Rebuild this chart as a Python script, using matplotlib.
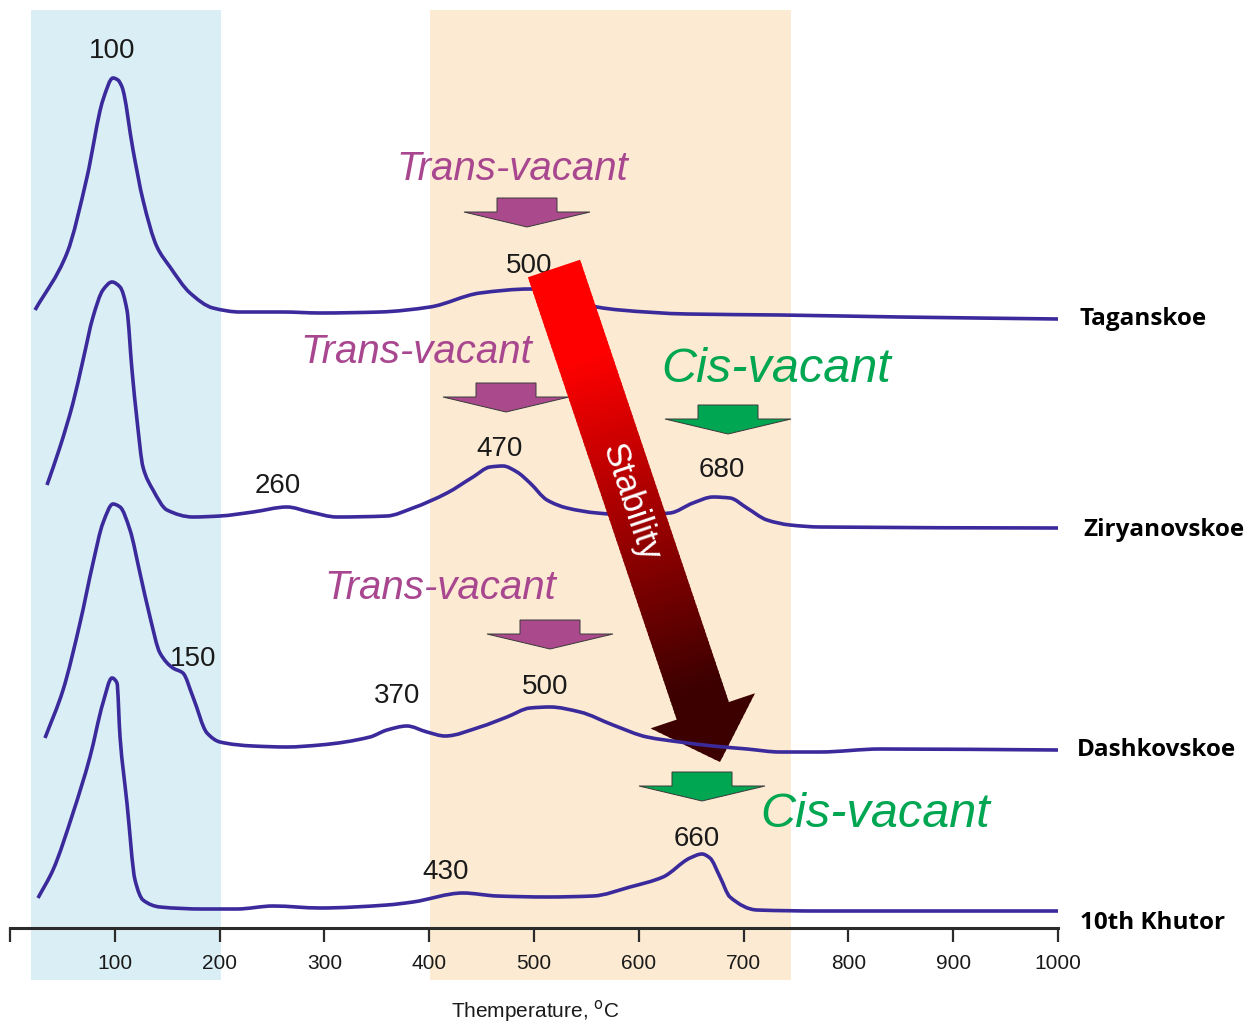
import numpy as np
import matplotlib
matplotlib.use('Agg')
import matplotlib.pyplot as plt
from matplotlib.patches import Polygon, PathPatch
from matplotlib.path import Path
from matplotlib.transforms import Affine2D
from matplotlib.colors import LinearSegmentedColormap

# ---------------- data (temperature in degC, DTA signal in arbitrary units) ----------------
tag_temp = [23.9, 54.4, 73.5, 88.7, 98.3, 103.0, 106.9, 117.4, 126.9, 140.3, 152.7, 171.8, 193.7,
            219.5, 260.5, 295.8, 353.0, 400.8, 448.5, 496.0, 524.8, 560.1, 582.0, 646.0, 735.0, 849.0, 1000.0]
tag_signal = [10, 67, 143, 220, 242, 240, 233, 170, 120, 73, 53, 27, 12,
              8, 8, 7, 8, 13, 27, 31, 27, 13, 10, 6, 5, 3, 1]

zir_temp = [35.3, 47.7, 60.1, 69.7, 79.2, 88.7, 97.3, 105.0, 111.6, 116.4, 121.2, 126.9, 136.5, 149.8,
            174.6, 200.4, 231.9, 264.3, 286.3, 312.0, 359.7, 384.5, 417.0, 441.8, 458.0, 470.4, 483.8,
            496.2, 512.4, 531.5, 560.1, 591.6, 629.8, 651.7, 670.8, 687.0, 703.2, 722.3, 744.3, 772.9, 1000.0]
zir_signal = [43, 81, 125, 168, 211, 238, 246, 241, 218, 158, 108, 61, 38, 18,
              11, 12, 16, 21, 16, 11, 12, 20, 35, 51, 61, 62, 56,
              45, 28, 20, 15, 13, 15, 25, 31, 30, 20, 8, 3, 1, 0]

dash_temp = [33.4, 50.6, 66.8, 79.2, 88.7, 98.3, 105.0, 114.5, 124.0, 133.6, 143.1, 155.5, 165.0, 174.6,
             188.0, 200.4, 231.9, 264.3, 295.8, 343.5, 359.7, 378.8, 397.9, 415.1, 448.5, 474.2, 496.2,
             515.3, 543.9, 575.4, 607.8, 639.3, 670.8, 703.2, 734.7, 772.9, 830.2, 1000.0]
dash_signal = [12, 60, 127, 187, 227, 246, 243, 220, 177, 133, 97, 82, 77, 53,
               17, 8, 4, 3, 5, 13, 20, 24, 18, 14, 23, 33, 42,
               43, 38, 25, 13, 8, 4, 1, -2, -2, 1, 0]

khu_temp = [26.7, 41.0, 60.1, 76.3, 88.7, 97.3, 102.1, 105.0, 111.6, 119.3, 126.9, 143.1, 184.2, 216.6,
            251.0, 295.8, 359.7, 384.5, 432.3, 464.7, 512.4, 556.3, 591.6, 623.1, 648.9, 660.3, 667.9,
            677.5, 687.0, 712.8, 772.9, 1000.0]
khu_signal = [13, 41, 98, 154, 208, 233, 228, 174, 108, 31, 11, 4, 2, 2,
              5, 3, 6, 9, 18, 15, 14, 15, 24, 34, 53, 57, 53,
              34, 14, 1, 0, 0]

samples = ['Taganskoe', 'Ziryanovskoe', 'Dashkovskoe', '10th Khutor']
tick_values = [0, 100, 200, 300, 400, 500, 600, 700, 800, 900, 1000]
tick_labels = ['', '100', '200', '300', '400', '500', '600', '700', '800', '900', '1000']
low_zone = [20, 201]      # degC, adsorbed water zone
dehyd_zone = [401, 745]   # degC, dehydroxylation zone

# ---------------- figure ----------------
W, H = 1248, 1024
fig = plt.figure(figsize=(W / 100, H / 100), dpi=100)
ax = fig.add_axes([0, 0, 1, 1])
ax.set_xlim(-9.54, 1181.3)
ax.set_ylim(H, 0)
ax.set_facecolor('none')
fig.patch.set_facecolor('white')

# transform for annotation geometry in reference-pixel coordinates (y down)
pxT = Affine2D().scale(1 / 100, -1 / 100).translate(0, H / 100) + fig.dpi_scale_trans

# background zones
ax.axvspan(low_zone[0], low_zone[1], ymin=44 / H, ymax=1014 / H, color='#d9eef5', zorder=0, lw=0)
ax.axvspan(dehyd_zone[0], dehyd_zone[1], ymin=44 / H, ymax=1014 / H, color='#fceAd2', zorder=0, lw=0)


def smooth_curve_path(x, y):
    """Monotone cubic (PCHIP-style) Bezier path through the data points."""
    x = np.asarray(x, float)
    y = np.asarray(y, float)
    h = np.diff(x)
    d = np.diff(y) / h
    m = np.zeros_like(x)
    m[0], m[-1] = d[0], d[-1]
    for i in range(1, len(x) - 1):
        if d[i - 1] * d[i] <= 0:
            m[i] = 0.0
        else:
            w1 = 2 * h[i] + h[i - 1]
            w2 = h[i] + 2 * h[i - 1]
            m[i] = (w1 + w2) / (w1 / d[i - 1] + w2 / d[i])
    verts = [(x[0], y[0])]
    codes = [Path.MOVETO]
    for i in range(len(x) - 1):
        verts += [(x[i] + h[i] / 3, y[i] + m[i] * h[i] / 3),
                  (x[i + 1] - h[i] / 3, y[i + 1] - m[i + 1] * h[i] / 3),
                  (x[i + 1], y[i + 1])]
        codes += [Path.CURVE4] * 3
    return Path(verts, codes)


# curves
line_color = '#3b2a9b'
baselines = [320, 528, 750, 911]
series = [(tag_temp, tag_signal), (zir_temp, zir_signal), (dash_temp, dash_signal), (khu_temp, khu_signal)]
for i, ((t, s), base) in enumerate(zip(series, baselines)):
    y = base - np.asarray(s, dtype=float)
    ax.add_patch(PathPatch(smooth_curve_path(t, y), facecolor='none', edgecolor=line_color,
                           lw=2.6, joinstyle='round', capstyle='butt',
                           zorder=5 if i == 2 else 2))

# axis
for sp in ['top', 'left', 'right']:
    ax.spines[sp].set_visible(False)
ax.spines['bottom'].set_position(('data', 928))
ax.spines['bottom'].set_bounds(0, 1000)
ax.spines['bottom'].set_linewidth(2.2)
ax.spines['bottom'].set_color('#2b2b2b')
ax.spines['bottom'].set_zorder(3)
ax.set_yticks([])
ax.set_xticks(tick_values)
ax.set_xticklabels(tick_labels, fontfamily=['Liberation Sans Narrow', 'Liberation Sans'])
ax.tick_params(axis='x', direction='out', length=10, width=1.6, color='#2b2b2b',
               labelsize=15, pad=8.5, labelcolor='#1a1a1a')

plt.rcParams['mathtext.fontset'] = 'custom'
plt.rcParams['mathtext.rm'] = 'Liberation Sans Narrow'
ax.text(535, 1011, r'Themperature, $^{\mathrm{o}}$C', transform=pxT, ha='center', va='center',
        fontsize=15, color='#1a1a1a', family=['Liberation Sans Narrow', 'Liberation Sans'])

# sample names
name_pos = [(1080, 325), (1083, 536), (1077, 756), (1080, 929)]
for name, (x, y) in zip(samples, name_pos):
    ax.text(x, y, name, transform=pxT, ha='left', va='baseline', fontsize=17.5,
            fontweight='bold', family=['Open Sans', 'DejaVu Sans'], color='black', zorder=6)

# peak labels
peak_labels = [('100', 112, 58), ('500', 529, 273), ('260', 278, 493), ('470', 500, 456),
               ('680', 722, 477), ('150', 193, 666), ('370', 397, 703), ('500', 545, 694),
               ('430', 446, 879), ('660', 697, 846)]
for txt, x, y in peak_labels:
    ax.text(x, y, txt, transform=pxT, ha='center', va='baseline', fontsize=20,
            family=['Liberation Sans', 'DejaVu Sans'], color='#1a1a1a', zorder=3)

# block arrows
purple = '#aa4a8c'
green = '#00a651'


def block_arrow(cx, top, color, shaft_half=30, head_half=63, shaft_h=14, head_h=15):
    pts = [(cx - shaft_half, top), (cx + shaft_half, top), (cx + shaft_half, top + shaft_h),
           (cx + head_half, top + shaft_h), (cx, top + shaft_h + head_h),
           (cx - head_half, top + shaft_h), (cx - shaft_half, top + shaft_h)]
    ax.add_patch(Polygon(pts, closed=True, transform=pxT, facecolor=color,
                         edgecolor='#3a3a3a', lw=0.7, zorder=3))


block_arrow(527, 198, purple)
block_arrow(506, 383, purple)
block_arrow(550, 620, purple)
block_arrow(728, 405, green)
block_arrow(702, 772, green)

for (x, y) in [(512, 180), (416, 363), (440, 599)]:
    ax.text(x, y, 'Trans-vacant', transform=pxT, ha='center', va='baseline', fontsize=29,
            style='italic', family=['Liberation Sans', 'DejaVu Sans'], color='#a8478f', zorder=3)
for (x, y) in [(776, 382), (875, 827)]:
    ax.text(x, y, 'Cis-vacant', transform=pxT, ha='center', va='baseline', fontsize=35,
            style='italic', family=['Liberation Sans', 'DejaVu Sans'], color=green, zorder=3)

# big gradient "Stability" arrow
S = np.array([554.0, 268.5])
Tip = np.array([720.0, 762.0])
d = Tip - S
L = np.hypot(*d)
u = d / L
n = np.array([u[1], -u[0]])
shaft_half, head_half, head_len = 27.5, 55.0, 54.0
B = Tip - head_len * u
arrow_pts = [S + shaft_half * n, B + shaft_half * n, B + head_half * n, Tip,
             B - head_half * n, B - shaft_half * n, S - shaft_half * n]
clip = Polygon(arrow_pts, closed=True, transform=pxT, facecolor='none', edgecolor='none', zorder=4)
ax.add_patch(clip)
cmap = LinearSegmentedColormap.from_list('stab', [(0, '#ff0000'), (0.18, '#ff0000'),
                                                  (0.85, '#3d0000'), (1.0, '#3d0000')])
N = 120
for k in range(N):
    a0 = (k / N) * L - 1
    a1 = ((k + 1) / N) * L + 1
    quad = [S + a0 * u + 80 * n, S + a1 * u + 80 * n, S + a1 * u - 80 * n, S + a0 * u - 80 * n]
    p = Polygon(quad, closed=True, transform=pxT, facecolor=cmap((k + 0.5) / N),
                edgecolor='none', lw=0, zorder=4)
    ax.add_patch(p)
    p.set_clip_path(clip)

ang = np.degrees(np.arctan2(-u[1], u[0]))
ax.text(630, 502, 'Stability', transform=pxT, ha='center', va='center', rotation=ang,
        rotation_mode='anchor', fontsize=25, color='white',
        family=['Liberation Sans', 'DejaVu Sans'], zorder=6)

fig.savefig('out.png', dpi=100)
